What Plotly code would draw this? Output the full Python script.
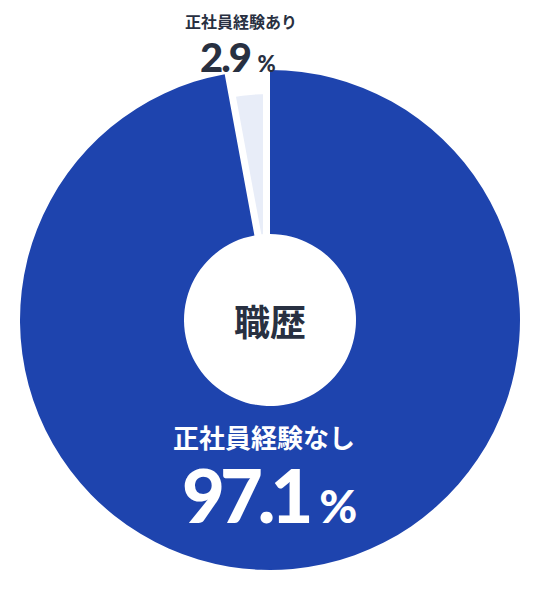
import plotly.graph_objects as go

# data
labels = ["正社員経験なし", "正社員経験あり"]
values = [97.1, 2.9]
center_label = "職歴"

W, H = 540, 590
PAGE = 8                   # the page body keeps an 8px margin round the figure
CX, CY = 270 - PAGE, 320 - PAGE
R_OUT, R_HOLE = 250, 86
GAP = 7                    # half width of the white border round the small slice
R_SMALL = 226 + GAP

BLUE = "#1e44ae"
LIGHT = "#e8edf8"
DARK = "#283041"
CLEAR = "rgba(0,0,0,0)"
JP = "Noto Sans CJK JP"
NUM = "Lato"


def px(x, y):
    return (x - PAGE) / W, 1 - (y - PAGE) / H


def domain(r):
    return dict(x=[(CX - r) / W, (CX + r) / W],
                y=[(H - CY - r) / H, (H - CY + r) / H])


fig = go.Figure()

# small slice, drawn first so the big slice covers the outer half of its border
fig.add_trace(go.Pie(
    labels=labels, values=values, sort=False, direction="clockwise", rotation=0,
    hole=(R_HOLE - GAP) / R_SMALL, domain=domain(R_SMALL),
    marker=dict(colors=[CLEAR, LIGHT], line=dict(color=[CLEAR, "white"], width=2 * GAP)),
    textinfo="none", hoverinfo="skip", showlegend=False,
))
fig.add_trace(go.Pie(
    labels=labels, values=values, sort=False, direction="clockwise", rotation=0,
    hole=R_HOLE / R_OUT, domain=domain(R_OUT),
    marker=dict(colors=[BLUE, CLEAR], line=dict(width=0)),
    textinfo="none", hoverinfo="label+percent", showlegend=False,
))


def note(text, x, y, size, color, family=JP, weight=700):
    ax, ay = px(x, y)
    fig.add_annotation(text=text, x=ax, y=ay, xref="paper", yref="paper",
                       showarrow=False, xanchor="center", yanchor="middle",
                       font=dict(size=size, color=color, family=family, weight=weight))


note(center_label, 270, 320, 36, DARK)
note(labels[1], 241, 21, 16, DARK)
note(f"<span style='letter-spacing:-2px'>{values[1]} </span>"
     f"<span style='font-size:22px'>%</span>", 238, 57, 40, DARK, family=NUM, weight=900)
note(labels[0], 264, 436, 26, "white")
note(f"<span style='letter-spacing:-5px'>{values[0]}</span>"
     f"<span style='font-size:46px'> %</span>", 269, 494, 74, "white", family=NUM, weight=900)

fig.update_layout(
    width=W, height=H,
    margin=dict(l=0, r=0, t=0, b=0),
    paper_bgcolor="white", plot_bgcolor="white",
)

fig.write_html("out.html")
